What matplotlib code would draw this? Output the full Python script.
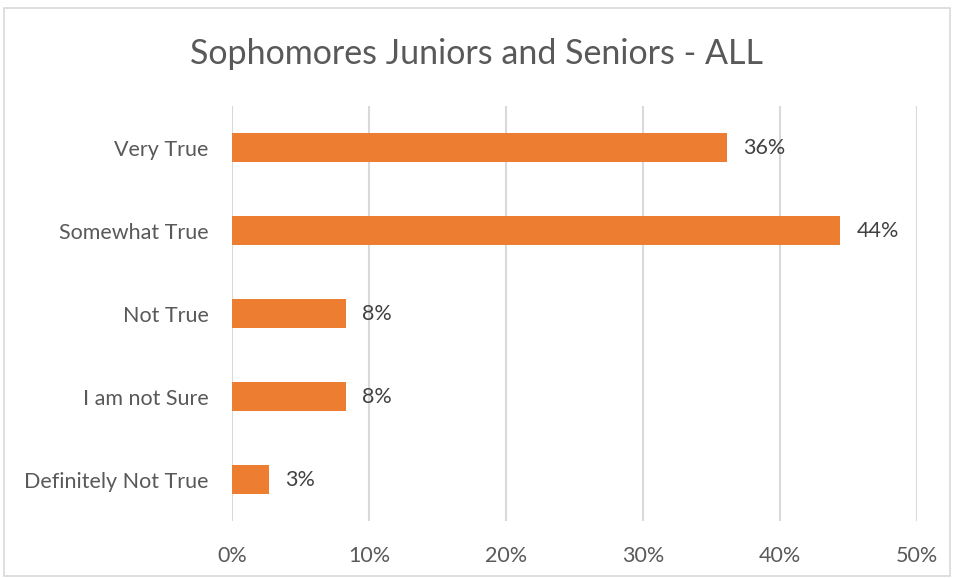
import matplotlib
matplotlib.use("Agg")
import matplotlib.pyplot as plt
from matplotlib.patches import Rectangle
from matplotlib.ticker import PercentFormatter

plt.rcParams['font.family'] = ['Lato', 'DejaVu Sans']

# survey responses, top to bottom
categories = ['Very True', 'Somewhat True', 'Not True', 'I am not Sure', 'Definitely Not True']
shares = [0.361, 0.444, 0.083, 0.083, 0.027]
x_ticks = [0.0, 0.1, 0.2, 0.3, 0.4, 0.5]

fig = plt.figure(figsize=(9.54, 5.78), dpi=100)
ax = fig.add_axes([0.2432, 0.0986, 0.7180, 0.7180])

pos = list(range(len(categories)))
ax.barh(pos, shares, height=0.36, color='#ED7D31', zorder=3)

for p, v in zip(pos, shares):
    ax.text(v + 0.012, p, '{:.0f}%'.format(v * 100), va='center', ha='left',
            fontsize=15.5, color='#404040')

ax.set_ylim(len(categories) - 0.5, -0.5)
ax.set_xlim(0, 0.5)
ax.set_yticks(pos)
ax.set_yticklabels(categories)
ax.set_xticks(x_ticks)
ax.xaxis.set_major_formatter(PercentFormatter(1.0, decimals=0))
ax.grid(axis='x', color='#D9D9D9', linewidth=1.5, zorder=0)
for s in ax.spines.values():
    s.set_visible(False)
ax.tick_params(axis='both', length=0, labelsize=15.5, labelcolor='#595959')
ax.tick_params(axis='y', pad=17)
ax.tick_params(axis='x', pad=18)

fig.text(0.5, 0.907, 'Sophomores Juniors and Seniors - ALL', ha='center', va='center',
         fontsize=24.5, color='#595959')

# light outline around the chart area
fig.patches.append(Rectangle((0.004, 0.004), 0.992, 0.982, transform=fig.transFigure,
                             fill=False, edgecolor='#D9D9D9', linewidth=1.2))

fig.savefig('out.png', dpi=100)
